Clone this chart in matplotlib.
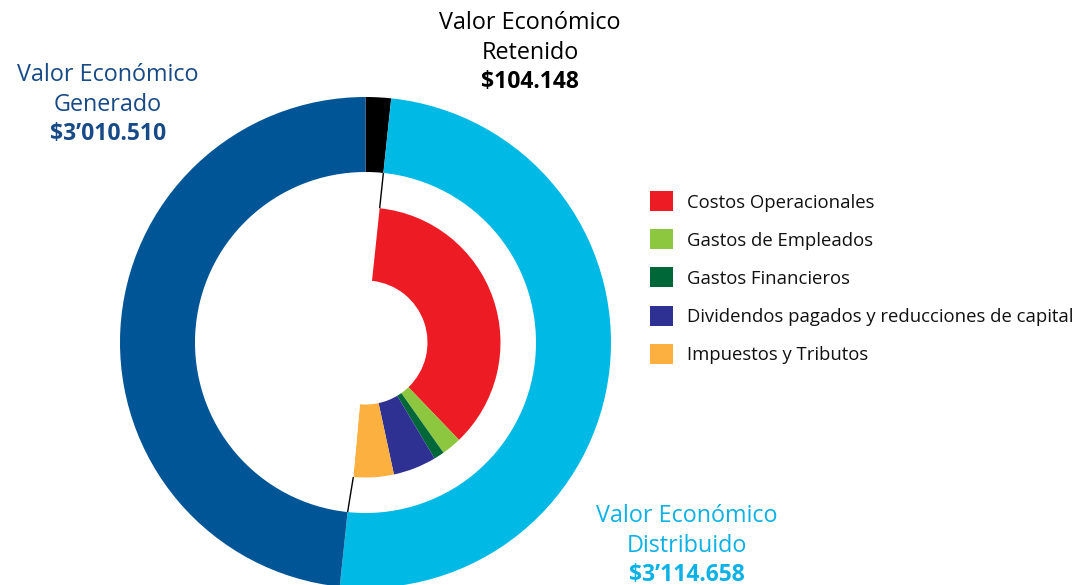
import matplotlib
matplotlib.use("Agg")
import matplotlib.pyplot as plt
from matplotlib.patches import Rectangle
import numpy as np

plt.rcParams['font.family'] = ['Open Sans', 'DejaVu Sans']

# outer ring: valor economico
outer_labels = ['Retenido', 'Distribuido', 'Generado']
outer_values = [104148, 3114658, 3010510]
outer_colors = ['#000000', '#00b9e4', '#005596']
outer_text = ["$104.148", "$3\u2019114.658", "$3\u2019010.510"]

# inner ring: breakdown of distribuido
inner_labels = ['Costos Operacionales', 'Gastos de Empleados', 'Gastos Financieros',
                'Dividendos pagados y reducciones de capital', 'Impuestos y Tributos']
inner_values = [2252000, 148000, 78000, 322000, 300000]
inner_colors = ['#ed1c24', '#8dc63f', '#006838', '#2e3192', '#fbb040']

W, H = 1079, 585
fig = plt.figure(figsize=(W / 100, H / 100), dpi=100)
ax = fig.add_axes([0, 0, 1, 1])

cx, cy = 365.5, H - 342.5
R = 245.5

ax.pie(outer_values, colors=outer_colors, radius=R, center=(cx, cy),
       startangle=90, counterclock=False,
       wedgeprops=dict(width=R - 170.5, linewidth=0))

# inner ring padded with white so it lines up with distribuido
tot = sum(outer_values)
rest = tot - outer_values[0] - sum(inner_values)
pad_vals = [outer_values[0]] + inner_values + [rest]
pad_cols = ['white'] + inner_colors + ['white']
ax.pie(pad_vals, colors=pad_cols, radius=135, center=(cx, cy),
       startangle=90, counterclock=False,
       wedgeprops=dict(width=135 - 62, linewidth=0))

# pie() resets the limits, so set pixel-like limits afterwards
ax.set_xlim(0, W)
ax.set_ylim(0, H)
ax.set_aspect('equal')
ax.axis('off')

# thin connector lines at the boundaries of distribuido
a1 = 360 * outer_values[0] / tot
a2 = 360 * (outer_values[0] + outer_values[1]) / tot
a3 = 360 * (outer_values[0] + sum(inner_values)) / tot
t1 = np.deg2rad(90 - a1)
ax.plot([cx + 135 * np.cos(t1), cx + 170.5 * np.cos(t1)],
        [cy + 135 * np.sin(t1), cy + 170.5 * np.sin(t1)],
        color='black', lw=1.0, solid_capstyle='butt')
t2 = np.deg2rad(90 - a2)
t3 = np.deg2rad(90 - a3)
ax.plot([cx + 135 * np.cos(t3), cx + 170.5 * np.cos(t2)],
        [cy + 135 * np.sin(t3), cy + 170.5 * np.sin(t2)],
        color='black', lw=1.0, solid_capstyle='butt')

# titles
def title(x, y0, name, value, color):
    ax.text(x, H - y0, 'Valor Económico', ha='center', va='center',
            fontsize=16.8, color=color)
    ax.text(x, H - y0 - 30, name, ha='center', va='center',
            fontsize=16.8, color=color)
    ax.text(x, H - y0 - 59, value, ha='center', va='center',
            fontsize=16.5, color=color, fontweight='bold')

title(108, 75, 'Generado', outer_text[2], '#174a87')
title(530, 23, 'Retenido', outer_text[0], '#000000')
title(687, 516, 'Distribuido', outer_text[1], '#0cb1e6')

# legend
for i, (lab, col) in enumerate(zip(inner_labels, inner_colors)):
    y = H - (201 + i * 38.2)
    ax.add_patch(Rectangle((650, y - 10), 23, 20, color=col, lw=0))
    ax.text(687, y - 1.5, lab, ha='left', va='center', fontsize=13.3, color='#111111')

fig.savefig('out.png', dpi=100)
